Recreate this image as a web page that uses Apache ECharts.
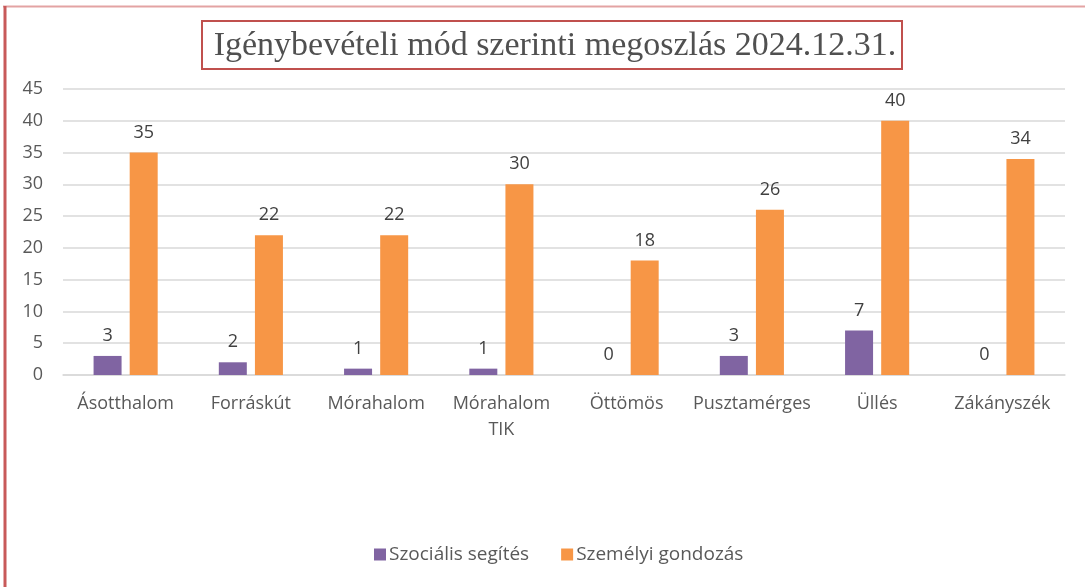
<!DOCTYPE html>
<html>
<head>
<meta charset="utf-8">
<script src="https://cdn.jsdelivr.net/npm/echarts@6/dist/echarts.min.js"></script>
<style>html,body{margin:0;padding:0;background:#fff}#c{width:1085px;height:587px}</style>
</head>
<body>
<div id="c"></div>
<script>
const categories = ['Ásotthalom', 'Forráskút', 'Mórahalom', 'Mórahalom\nTIK', 'Öttömös', 'Pusztamérges', 'Üllés', 'Zákányszék'];
const szocialis = [3, 2, 1, 1, 0, 3, 7, 0];
const szemelyi = [35, 22, 22, 30, 18, 26, 40, 34];
const seriesNames = ['Szociális segítés', 'Személyi gondozás'];
const titleText = 'Igénybevételi mód szerinti megoszlás 2024.12.31.';

const chart = echarts.init(document.getElementById('c'));
const labelStyle = { show: true, position: 'top', distance: 11, color: '#404040', fontSize: 18, fontFamily: 'Open Sans' };
chart.setOption({
  animation: false,
  backgroundColor: '#fff',
  title: {
    text: titleText,
    left: 550, top: 24, textAlign: 'center',
    textStyle: { fontFamily: 'Liberation Serif', fontSize: 34, fontWeight: 'normal', color: '#505050' }
  },
  graphic: [
    { type: 'rect', shape: { x: 202, y: 21, width: 700, height: 48 }, style: { fill: 'none', stroke: '#C0504D', lineWidth: 2 }, z: 10 },
    { type: 'line', shape: { x1: 3, y1: 6.5, x2: 1085, y2: 6.5 }, style: { stroke: '#E3A3A3', lineWidth: 2 }, z: 10 },
    { type: 'line', shape: { x1: 5, y1: 6, x2: 5, y2: 587 }, style: { stroke: '#C85A5A', lineWidth: 3 }, z: 10 }
  ],
  legend: {
    data: seriesNames,
    bottom: 18, left: 369,
    itemWidth: 12, itemHeight: 12, itemGap: 32,
    icon: 'rect',
    textStyle: { fontFamily: 'Open Sans', fontSize: 19, color: '#595959', padding: [0, 0, 0, -2] }
  },
  grid: { left: 63, right: 20, top: 89, bottom: 212, containLabel: false },
  xAxis: {
    type: 'category',
    data: categories,
    axisLine: { show: true, lineStyle: { color: '#D9D9D9', width: 1.5 } },
    axisTick: { show: false },
    axisLabel: { color: '#595959', fontSize: 18, fontFamily: 'Open Sans', margin: 16, lineHeight: 26, interval: 0 }
  },
  yAxis: {
    type: 'value',
    min: 0, max: 45, interval: 5,
    axisLine: { show: false },
    axisTick: { show: false },
    splitLine: { lineStyle: { color: '#D9D9D9', width: 1.5 } },
    axisLabel: { color: '#595959', fontSize: 18, fontFamily: 'Open Sans', margin: 20 }
  },
  series: [
    { name: seriesNames[0], type: 'bar', data: szocialis, barWidth: 28, barGap: '29%', itemStyle: { color: '#8064A2' }, label: labelStyle },
    { name: seriesNames[1], type: 'bar', data: szemelyi, barWidth: 28, barGap: '29%', itemStyle: { color: '#F79646' }, label: labelStyle }
  ]
});
</script>
</body>
</html>
